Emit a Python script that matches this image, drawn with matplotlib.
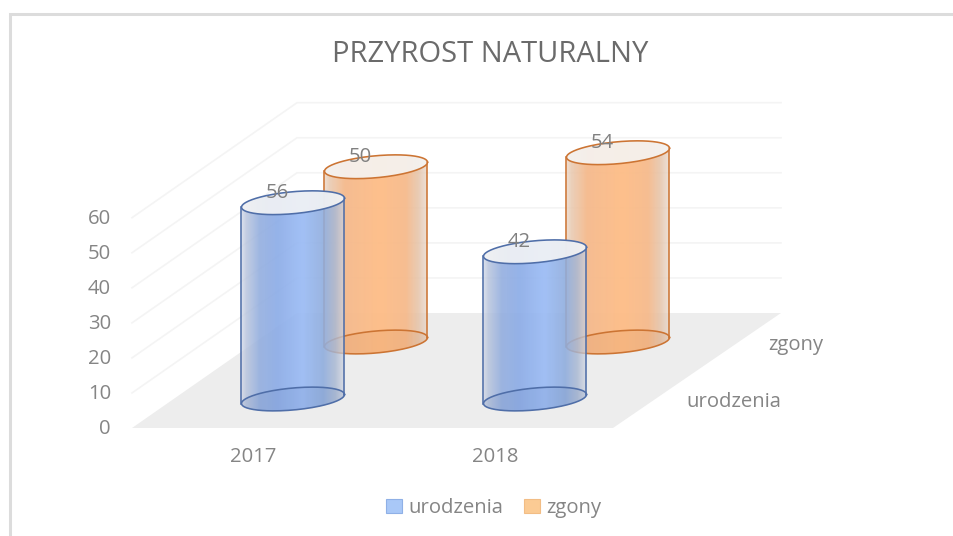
import numpy as np
import matplotlib
matplotlib.use("Agg")
import matplotlib.pyplot as plt
from matplotlib.colors import to_rgb
from matplotlib.patches import Patch, Polygon

# ---- data ----
title = "PRZYROST NATURALNY"
categories = ["2017", "2018"]
series_names = ["urodzenia", "zgony"]
urodzenia = [56, 42]
zgony = [50, 54]
value_ticks = [0, 10, 20, 30, 40, 50, 60]

# ---- style ----
TXT = "#858585"
FS = 14.6
plt.rcParams["font.family"] = ["Open Sans", "DejaVu Sans"]
UNIT = 3.505          # px per value unit
CAT_DX = 242          # px between categories
SER_DX, SER_DY = 83, 57
X0, Y0 = 293, 399     # base centre of first cylinder
RX, RY, TILT = 51.5, 11.0, 4.5

FLOOR_FL = (132, 428)
FLOOR_FR = (613, 428)
FLOOR_BR = (781, 313)
FLOOR_BL = (297, 313)

fills = {
    0: dict(edge="#4f6ea8", stops=[0, .05, .18, .35, .6, .8, .92, 1],
            cols=["#cfd6e6", "#b5c2dc", "#93aedf", "#8cace7", "#9abbf5", "#8fadde", "#a8b7d3", "#cdd3df"],
            alpha=[.7, .82, .9, .92, .92, .9, .82, .7]),
    1: dict(edge="#cc7433", stops=[0, .05, .2, .55, .8, .92, 1],
            cols=["#ead5c6", "#e8c8ae", "#f5b98c", "#febe88", "#f6ba8c", "#e5c3a8", "#e6d3c5"],
            alpha=[.75, .85, .95, .97, .95, .85, .72]),
}

fig = plt.figure(figsize=(9.54, 5.36), dpi=100, facecolor="white")
ax = fig.add_axes([0, 0, 1, 1])
ax.set_axis_off()


def project(cat, ser, val):
    """oblique projection of (category, series, value) to picture coordinates"""
    return X0 + CAT_DX * cat + SER_DX * ser, Y0 - SER_DY * ser - UNIT * val


def ellipse(cx, cy, t):
    # tilted: right end sits higher than left end
    return cx + RX * np.cos(t), cy - RY * np.sin(t) - TILT * np.cos(t)


# frame of the pasted chart
ax.plot([10.5, 10.5, 954], [536, 13.5, 13.5], color="#dcdcdc", lw=2.2, zorder=1, solid_joinstyle="miter")

# floor and walls
ax.add_patch(Polygon([FLOOR_FL, FLOOR_FR, FLOOR_BR, FLOOR_BL], closed=True, fc="#ededed", ec="none", zorder=1))
for v in value_ticks[1:]:
    dy = UNIT * v
    ax.plot([FLOOR_FL[0], FLOOR_BL[0], FLOOR_BR[0]],
            [FLOOR_FL[1] - dy, FLOOR_BL[1] - dy, FLOOR_BR[1] - dy],
            color="#f4f4f4", lw=1.2, zorder=1)

z = 2
for ser in (1, 0):
    values = (urodzenia, zgony)[ser]
    st = fills[ser]
    for cat, val in enumerate(values):
        bx, by = project(cat, ser, 0)
        tx, ty = project(cat, ser, val)
        tf = np.linspace(np.pi, 2 * np.pi, 60)     # front half
        tb = np.linspace(0, np.pi, 60)             # back half
        xf, yf = ellipse(bx, by, tf)
        xb, yb = ellipse(tx, ty, tb)
        poly = Polygon(np.column_stack([np.r_[xf, xb], np.r_[yf, yb]]), closed=True,
                       transform=ax.transData, fc="none", ec="none")
        ax.add_patch(poly)

        u = np.linspace(0, 1, 256)
        rgb = np.array([to_rgb(c) for c in st["cols"]])
        img = np.zeros((1, 256, 4))
        for k in range(3):
            img[0, :, k] = np.interp(u, st["stops"], rgb[:, k])
        img[0, :, 3] = np.interp(u, st["stops"], st["alpha"])
        im = ax.imshow(img, extent=(bx - RX, bx + RX, by + 30, ty - 30), aspect="auto",
                       interpolation="bilinear", zorder=z)
        im.set_clip_path(poly)

        t = np.linspace(0, 2 * np.pi, 160)
        x, y = ellipse(bx, by, t)
        ax.fill(x, y, color=st["edge"], alpha=.12, lw=0, zorder=z + .1)
        ax.plot(x, y, color=st["edge"], lw=1.15, zorder=z + .2)
        lx, ly = ellipse(bx, by, np.pi)
        ltx, lty = ellipse(tx, ty, np.pi)
        rx, ry = ellipse(bx, by, 0)
        rtx, rty = ellipse(tx, ty, 0)
        ax.plot([lx, ltx], [ly, lty], color=st["edge"], lw=1.15, zorder=z + .2)
        ax.plot([rx, rtx], [ry, rty], color=st["edge"], lw=1.15, zorder=z + .2)
        x, y = ellipse(tx, ty, t)
        ax.fill(x, y, color="#f5f5f5", alpha=.88, lw=0, zorder=z + .3)
        ax.plot(x, y, color=st["edge"], lw=1.15, zorder=z + .4)
        z += 1

for ser, values in enumerate((urodzenia, zgony)):
    for cat, val in enumerate(values):
        tx, ty = project(cat, ser, val)
        ax.text(tx - 16, ty - 10, str(val), ha="center", va="center", fontsize=FS,
                color="#808080", zorder=20)

for v in value_ticks:
    ax.text(111, FLOOR_FL[1] + 1.5 - UNIT * v, str(v), ha="right", va="center",
            fontsize=FS, color=TXT, zorder=20)
for cat, name in enumerate(categories):
    ax.text(253 + CAT_DX * cat, 457, name, ha="center", va="center", fontsize=FS, color=TXT, zorder=20)
ax.text(781, 402, series_names[0], ha="right", va="center", fontsize=FS, color=TXT, zorder=20)
ax.text(823, 345, series_names[1], ha="right", va="center", fontsize=FS, color=TXT, zorder=20)

ax.text(490, 54, title, ha="center", va="center", fontsize=21, color="#6b6b6b", zorder=20)

ax.set_xlim(0, 954)
ax.set_ylim(536, 0)

handles = [Patch(fc="#a9c8f7", ec="#8fb0e6", lw=.8), Patch(fc="#fbcb94", ec="#f2bd85", lw=.8)]
leg = ax.legend(handles, series_names, loc="center", bbox_to_anchor=(493.5, 508),
                bbox_transform=ax.transData, ncol=2, frameon=False, fontsize=FS,
                labelcolor=TXT, handlelength=.8, handleheight=.65, handletextpad=.3,
                columnspacing=1.0, borderpad=0, borderaxespad=0)

fig.savefig("out.png", dpi=100, facecolor="white")
